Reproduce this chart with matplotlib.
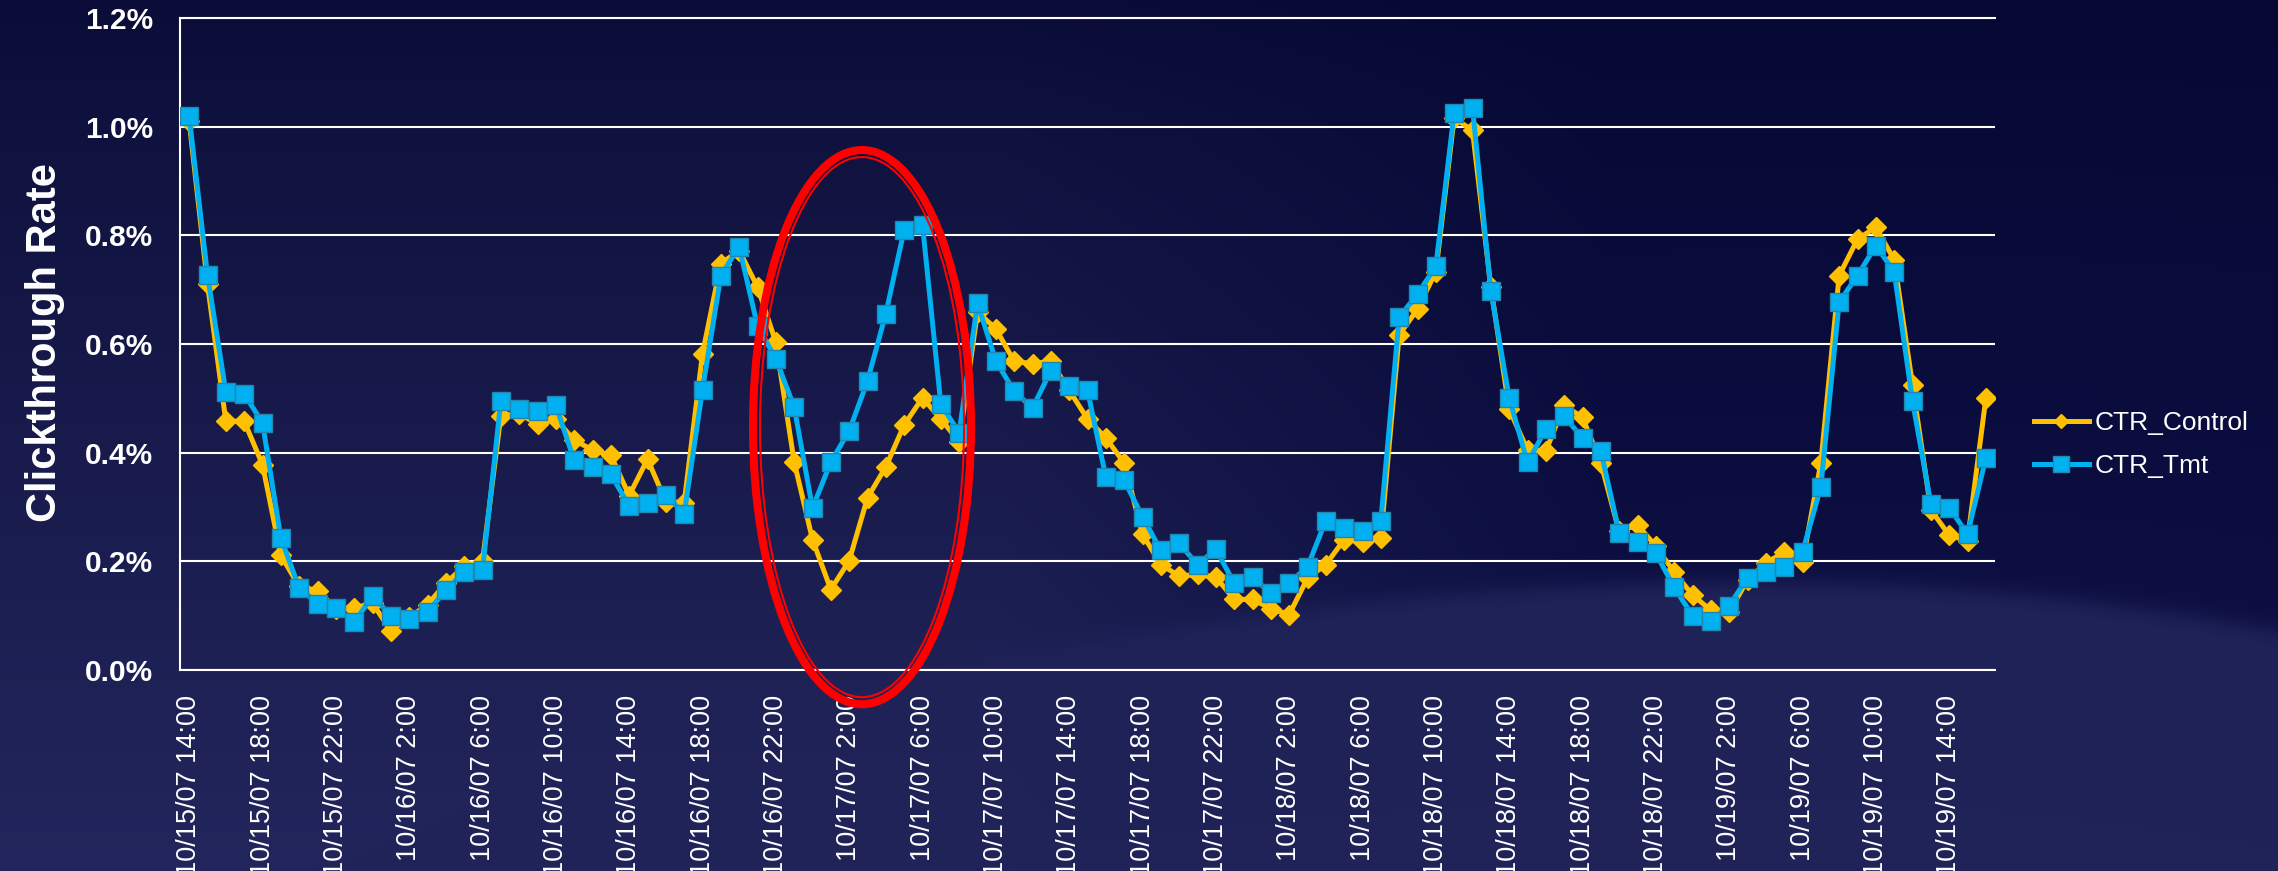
import numpy as np
import pandas as pd
import matplotlib
matplotlib.use("Agg")
import matplotlib.pyplot as plt
from matplotlib.patches import Ellipse
from matplotlib.lines import Line2D
from matplotlib.ticker import FuncFormatter

plt.rcParams['font.family'] = ['Liberation Sans', 'DejaVu Sans']

# hourly buckets, 10/15/07 14:00 .. 10/19/07 16:00
hours = pd.date_range("2007-10-15 14:00", periods=99, freq="h")
hour_labels = [f"{t.month}/{t.day}/{t:%y} {t.hour}:00" for t in hours]

# clickthrough rate in percent
ctr_control = [
    1.010, 0.710, 0.458, 0.458, 0.378, 0.211, 0.154, 0.146, 0.113, 0.114,
    0.123, 0.072, 0.097, 0.120, 0.160, 0.191, 0.200, 0.468, 0.472, 0.452,
    0.462, 0.423, 0.405, 0.395, 0.321, 0.388, 0.310, 0.308, 0.582, 0.748,
    0.772, 0.705, 0.603, 0.383, 0.240, 0.148, 0.201, 0.317, 0.374, 0.451,
    0.501, 0.462, 0.420, 0.659, 0.628, 0.568, 0.564, 0.568, 0.515, 0.462,
    0.427, 0.381, 0.250, 0.194, 0.173, 0.176, 0.171, 0.130, 0.130, 0.113,
    0.102, 0.169, 0.194, 0.240, 0.236, 0.243, 0.617, 0.664, 0.733, 1.016,
    0.993, 0.705, 0.480, 0.405, 0.403, 0.487, 0.465, 0.381, 0.255, 0.267,
    0.228, 0.180, 0.138, 0.110, 0.106, 0.166, 0.197, 0.217, 0.198, 0.381,
    0.726, 0.793, 0.815, 0.755, 0.525, 0.295, 0.248, 0.238, 0.500,
]
ctr_tmt = [
    1.019, 0.727, 0.512, 0.508, 0.455, 0.243, 0.151, 0.122, 0.115, 0.088,
    0.136, 0.100, 0.093, 0.107, 0.147, 0.180, 0.184, 0.495, 0.480, 0.476,
    0.487, 0.386, 0.374, 0.360, 0.302, 0.307, 0.323, 0.287, 0.516, 0.726,
    0.779, 0.633, 0.573, 0.484, 0.298, 0.383, 0.440, 0.532, 0.656, 0.810,
    0.819, 0.489, 0.437, 0.675, 0.569, 0.513, 0.482, 0.551, 0.522, 0.515,
    0.355, 0.349, 0.282, 0.220, 0.233, 0.194, 0.222, 0.160, 0.171, 0.141,
    0.160, 0.190, 0.275, 0.261, 0.255, 0.275, 0.649, 0.692, 0.743, 1.026,
    1.035, 0.698, 0.501, 0.382, 0.443, 0.467, 0.427, 0.403, 0.253, 0.235,
    0.215, 0.152, 0.100, 0.091, 0.118, 0.170, 0.181, 0.189, 0.217, 0.337,
    0.677, 0.726, 0.781, 0.733, 0.495, 0.306, 0.299, 0.250, 0.390,
]

W, H = 2278, 871
fig = plt.figure(figsize=(W / 100, H / 100), dpi=100)

# navy slide background: vertical gradient, darker upper right, lighter swoosh low on the right
yy, xx = np.mgrid[0:H, 0:W].astype(float)
top = np.array([11, 13, 56]) / 255
bottom = np.array([35, 38, 92]) / 255
t = (yy / H) ** 0.9
img = top + (bottom - top) * t[..., None]

edge = np.where(xx < 1750, 582 + 1.4e-4 * (xx - 1750) ** 2, 582 + 1.76e-4 * (xx - 1750) ** 2)
wr = np.clip((xx - 1000) / 600, 0, 1)
dark_top = np.array([6, 8, 52]) / 255
dark_low = np.array([13, 15, 66]) / 255
s = np.clip(yy / edge, 0, 1)
dark = dark_top + (dark_low - dark_top) * s[..., None]
img = img * (1 - wr[..., None]) + dark * wr[..., None]

hill = 1 / (1 + np.exp(-(yy - edge) / 6))
hill_col = np.array([32, 35, 88]) / 255
img = img * (1 - hill[..., None]) + hill_col * hill[..., None]

bg = fig.add_axes([0, 0, 1, 1], zorder=0)
bg.imshow(np.clip(img, 0, 1), aspect='auto', extent=(0, W, H, 0))
bg.axis('off')

ax = fig.add_axes([180 / W, 1 - 670 / H, 1815 / W, 652 / H], zorder=1)
ax.patch.set_alpha(0)

x = np.arange(len(hours))
ax.plot(x, ctr_control, color='#FFC000', lw=3.6, marker='D', ms=10,
        mec='#FFC000', mew=1, zorder=3, label='CTR_Control')
ax.plot(x, ctr_tmt, color='#00B0F0', lw=3.6, marker='s', ms=13.5,
        mec='#2286AE', mew=1, zorder=4, label='CTR_Tmt')

ax.set_xlim(-0.5, len(hours) - 0.5)
ax.set_ylim(0, 1.2)
ax.set_yticks(np.arange(0, 1.21, 0.2))
ax.yaxis.set_major_formatter(FuncFormatter(lambda v, p: f"{v:.1f}%"))
ax.set_xticks(x[::4])
ax.set_xticklabels(hour_labels[::4], rotation=90, ha='center', va='top')

ax.grid(axis='y', color='white', lw=1.5)
ax.set_axisbelow(True)
for side in ['left', 'bottom', 'top']:
    ax.spines[side].set_color('white')
    ax.spines[side].set_linewidth(1.5)
ax.spines['right'].set_visible(False)

ax.tick_params(axis='y', length=0, pad=19.5, labelsize=21.5, labelcolor='white')
ax.tick_params(axis='x', length=0, pad=18, labelsize=19.5, labelcolor='white')
for lbl in ax.get_yticklabels():
    lbl.set_fontweight('bold')

fig.text(45 / W, 1 - 343 / H, 'Clickthrough Rate', rotation=90, ha='center',
         va='center', fontsize=30, fontweight='bold', color='white')

# double red ring around the overnight gap
ax.add_patch(Ellipse((36.70, 0.447), 11.89, 1.020, fill=False, ec='#FF0000',
                     lw=5.8, zorder=6, clip_on=False))
ax.add_patch(Ellipse((36.70, 0.447), 11.13, 0.994, fill=False, ec='#FF0000',
                     lw=1.5, zorder=6, clip_on=False))

handles = [
    Line2D([], [], color='#FFC000', lw=3.6, marker='D', ms=7, mec='#FFC000'),
    Line2D([], [], color='#00B0F0', lw=3.6, marker='s', ms=12, mec='#2286AE', mew=1),
]
fig.legend(handles, ['CTR_Control', 'CTR_Tmt'], loc='center left',
           bbox_to_anchor=(2034 / W, 1 - 444.5 / H), frameon=False, fontsize=19,
           labelcolor='white', handlelength=2.08, handletextpad=0.2,
           borderpad=0, borderaxespad=0, labelspacing=0.7)

fig.savefig('out.png', dpi=100)
